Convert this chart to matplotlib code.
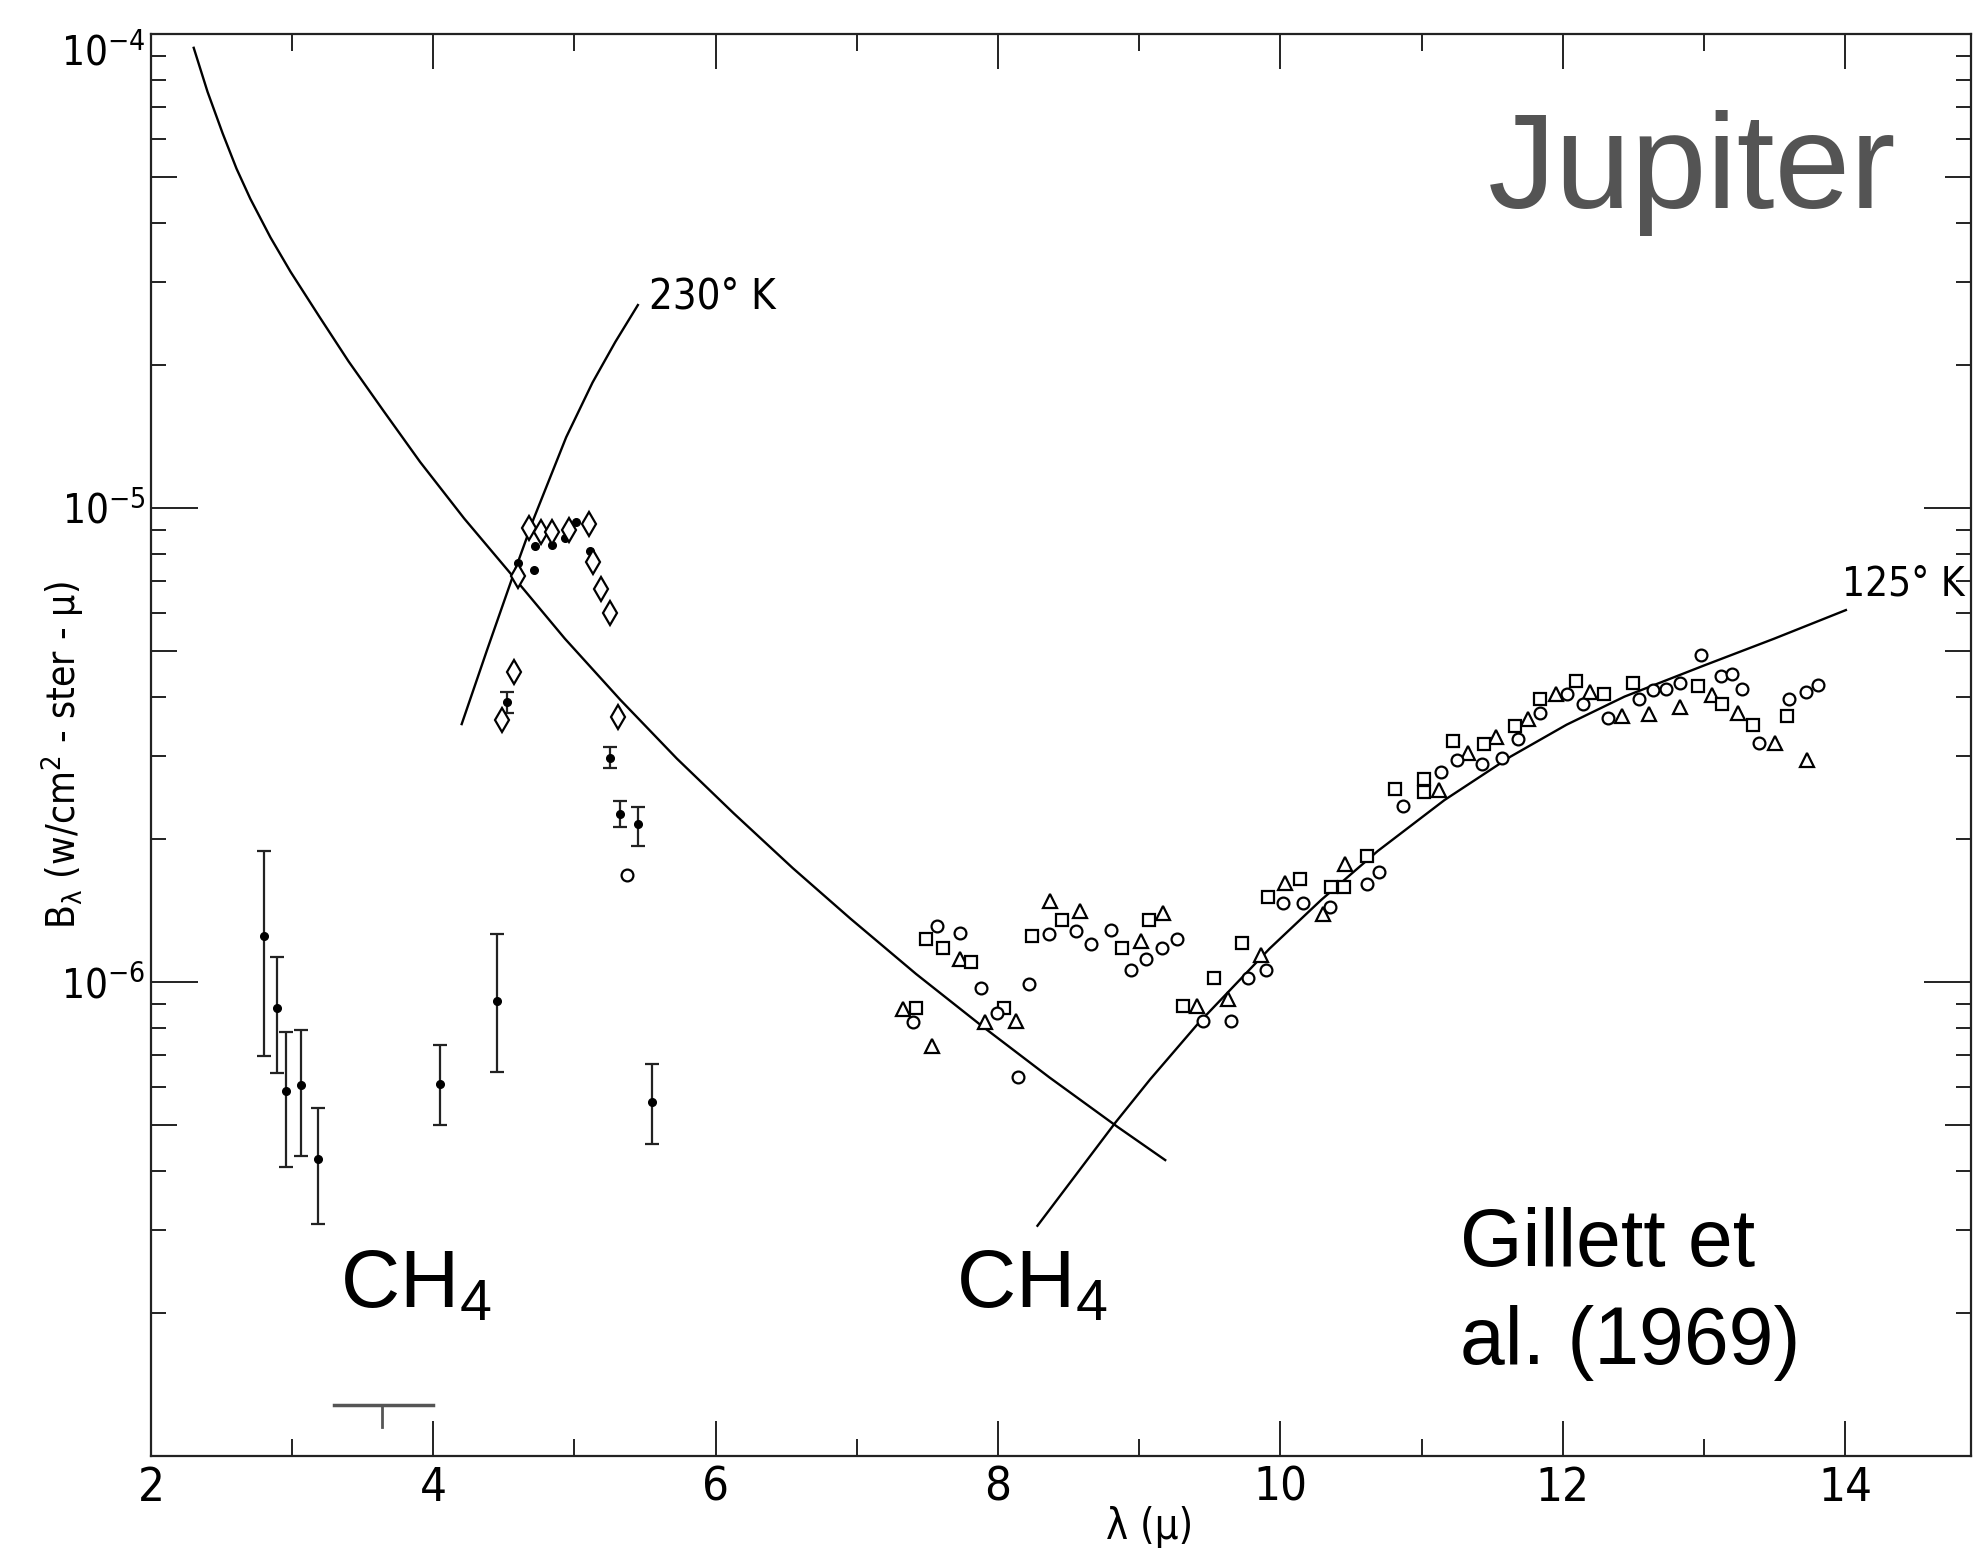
import numpy as np
import matplotlib
matplotlib.use('Agg')
import matplotlib.pyplot as plt
from matplotlib import font_manager as fm
from matplotlib.ticker import (FixedLocator, FixedFormatter, NullFormatter,
                               NullLocator, LogLocator, MultipleLocator)

# ---------------- data ----------------
# falling curve from the upper left
main_x = [2.303, 2.401, 2.508, 2.606, 2.704, 2.847, 2.989, 3.194, 3.399, 3.649, 3.907,
          4.219, 4.531, 4.932, 5.324, 5.725, 6.127, 6.545, 6.955, 7.419, 7.873, 8.364,
          8.845, 9.184]
main_y = [9.35e-5, 7.55e-5, 6.17e-5, 5.2e-5, 4.49e-5, 3.72e-5, 3.15e-5, 2.53e-5, 2.04e-5,
          1.60e-5, 1.25e-5, 9.5e-6, 7.37e-6, 5.30e-6, 3.94e-6, 2.96e-6, 2.27e-6, 1.74e-6,
          1.36e-6, 1.04e-6, 8.13e-7, 6.29e-7, 4.95e-7, 4.21e-7]

# 230 K blackbody segment
k230_x = [4.201, 4.380, 4.567, 4.709, 4.941, 5.128, 5.289, 5.449]
k230_y = [3.50e-6, 5.01e-6, 7.23e-6, 9.46e-6, 1.41e-5, 1.84e-5, 2.24e-5, 2.68e-5]

# 125 K blackbody segment
k125_x = [8.279, 8.833, 9.077, 9.415, 9.923, 10.289, 10.69, 11.162, 11.631, 12.027,
          12.437, 12.998, 13.497, 14.005]
k125_y = [3.06e-7, 5.06e-7, 6.23e-7, 8.16e-7, 1.176e-6, 1.49e-6, 1.89e-6, 2.42e-6,
          2.99e-6, 3.49e-6, 4.0e-6, 4.65e-6, 5.3e-6, 6.09e-6]

# filled points with error bars
eb_x = [2.80, 2.89, 2.96, 3.06, 3.18, 4.05, 4.45, 5.55, 4.52, 5.25, 5.32, 5.45]
eb_y = [1.25e-6, 8.8e-7, 5.9e-7, 6.05e-7, 4.24e-7, 6.1e-7, 9.1e-7, 5.57e-7,
        3.9e-6, 2.97e-6, 2.26e-6, 2.15e-6]
eb_lo = [6.97e-7, 6.44e-7, 4.08e-7, 4.29e-7, 3.08e-7, 5.0e-7, 6.46e-7, 4.55e-7,
         3.7e-6, 2.83e-6, 2.12e-6, 1.94e-6]
eb_hi = [1.89e-6, 1.13e-6, 7.83e-7, 7.92e-7, 5.43e-7, 7.35e-7, 1.26e-6, 6.73e-7,
         4.1e-6, 3.13e-6, 2.41e-6, 2.34e-6]

# filled points without error bars
dot_x = [4.60, 4.71, 4.72, 4.84, 4.93, 5.01, 5.11]
dot_y = [7.65e-6, 7.41e-6, 8.3e-6, 8.36e-6, 8.64e-6, 9.33e-6, 8.1e-6]

# open diamonds
dia_x = [4.49, 4.57, 4.60, 4.68, 4.76, 4.84, 4.96, 5.10, 5.13, 5.19, 5.25, 5.31]
dia_y = [3.57e-6, 4.5e-6, 7.2e-6, 9.07e-6, 8.9e-6, 8.9e-6, 8.98e-6, 9.26e-6,
         7.7e-6, 6.74e-6, 6.01e-6, 3.63e-6]

# open triangles
tri_x = [7.33, 7.53, 7.73, 7.91, 8.13, 8.37, 8.58, 9.01, 9.17, 9.41, 9.63, 9.86, 10.03,
         10.30, 10.46, 11.12, 11.33, 11.53, 11.75, 11.95, 12.19, 12.42, 12.61, 12.83,
         13.06, 13.24, 13.50, 13.73]
tri_y = [8.79e-7, 7.33e-7, 1.12e-6, 8.22e-7, 8.28e-7, 1.48e-6, 1.41e-6, 1.22e-6, 1.40e-6,
         8.9e-7, 9.2e-7, 1.14e-6, 1.62e-6, 1.39e-6, 1.77e-6, 2.54e-6, 3.04e-6, 3.29e-6,
         3.58e-6, 4.06e-6, 4.1e-6, 3.64e-6, 3.67e-6, 3.8e-6, 4.03e-6, 3.70e-6, 3.2e-6, 2.94e-6]

# open squares
sq_x = [7.42, 7.49, 7.61, 7.81, 8.04, 8.24, 8.45, 8.88, 9.07, 9.31, 9.53, 9.73, 9.91,
        10.14, 10.36, 10.45, 10.61, 10.81, 11.02, 11.02, 11.22, 11.44, 11.66, 11.84,
        12.09, 12.29, 12.50, 12.96, 13.13, 13.35, 13.59]
sq_y = [8.8e-7, 1.23e-6, 1.18e-6, 1.10e-6, 8.8e-7, 1.25e-6, 1.35e-6, 1.18e-6, 1.35e-6,
        8.9e-7, 1.02e-6, 1.21e-6, 1.51e-6, 1.65e-6, 1.59e-6, 1.59e-6, 1.84e-6, 2.55e-6,
        2.52e-6, 2.68e-6, 3.23e-6, 3.18e-6, 3.46e-6, 3.96e-6, 4.31e-6, 4.05e-6, 4.28e-6,
        4.21e-6, 3.86e-6, 3.49e-6, 3.64e-6]

# open circles
circ_x = [5.37, 7.40, 7.57, 7.73, 7.88, 7.99, 8.14, 8.22, 8.36, 8.55, 8.66, 8.80, 8.94,
          9.05, 9.16, 9.27, 9.45, 9.65, 9.77, 9.90, 10.02, 10.16, 10.35, 10.61, 10.70,
          10.87, 11.14, 11.25, 11.43, 11.57, 11.68, 11.84, 12.03, 12.14, 12.32, 12.54,
          12.64, 12.73, 12.83, 12.98, 13.12, 13.20, 13.27, 13.39, 13.60, 13.72, 13.81]
circ_y = [1.68e-6, 8.22e-7, 1.31e-6, 1.27e-6, 9.73e-7, 8.6e-7, 6.29e-7, 9.9e-7, 1.26e-6,
          1.28e-6, 1.20e-6, 1.29e-6, 1.06e-6, 1.12e-6, 1.18e-6, 1.23e-6, 8.28e-7, 8.28e-7,
          1.02e-6, 1.06e-6, 1.47e-6, 1.47e-6, 1.44e-6, 1.61e-6, 1.71e-6, 2.35e-6, 2.77e-6,
          2.94e-6, 2.89e-6, 2.97e-6, 3.26e-6, 3.70e-6, 4.05e-6, 3.86e-6, 3.61e-6, 3.96e-6,
          4.13e-6, 4.16e-6, 4.28e-6, 4.9e-6, 4.43e-6, 4.46e-6, 4.16e-6, 3.2e-6, 3.96e-6,
          4.1e-6, 4.24e-6]

# resolution bar near the bottom
res_x = [3.30, 4.00]
res_y = [1.28e-7, 1.28e-7]
res_tick_x = [3.64, 3.64]
res_tick_y = [1.28e-7, 1.15e-7]

x_ticks = [2, 4, 6, 8, 10, 12, 14]
y_ticks = [1e-6, 1e-5, 1e-4]
y_tick_labels = [r'$\mathregular{10^{-6}}$', r'$\mathregular{10^{-5}}$', r'$\mathregular{10^{-4}}$']

# ---------------- fonts ----------------
names = {f.name for f in fm.fontManager.ttflist}
NARROW = 'Liberation Sans Narrow' if 'Liberation Sans Narrow' in names else 'DejaVu Sans'
SANS = 'Liberation Sans' if 'Liberation Sans' in names else 'DejaVu Sans'
old = dict(family=NARROW, stretch='condensed')

plt.rcParams['font.family'] = [SANS, 'DejaVu Sans']

fig = plt.figure(figsize=(19.73, 15.63), dpi=100)
ax = fig.add_axes([0.0765, 0.06846, 0.9224, 0.9098])
ax.set_yscale('log')
ax.set_xlim(2, 14.89)
ax.set_ylim(1e-7, 1e-4)

for s in ax.spines.values():
    s.set_linewidth(1.6)
    s.set_color('#222222')

# curves
ax.plot(main_x, main_y, color='black', lw=1.7)
ax.plot(k230_x, k230_y, color='black', lw=1.7)
ax.plot(k125_x, k125_y, color='black', lw=1.7)

# data markers
yerr = [np.array(eb_y) - np.array(eb_lo), np.array(eb_hi) - np.array(eb_y)]
ax.errorbar(eb_x, eb_y, yerr=yerr, fmt='o', ms=5.5, color='black', ecolor='#222222',
            capsize=5, elinewidth=1.6, capthick=1.6)
ax.plot(dot_x, dot_y, 'o', ms=5.5, color='black', ls='none')
ax.plot(dia_x, dia_y, 'd', ms=12, mfc='white', mec='black', mew=1.6, ls='none')
ax.plot(tri_x, tri_y, '^', ms=10, mfc='white', mec='black', mew=1.6, ls='none')
ax.plot(sq_x, sq_y, 's', ms=9, mfc='white', mec='black', mew=1.6, ls='none')
ax.plot(circ_x, circ_y, 'o', ms=8.5, mfc='white', mec='black', mew=1.6, ls='none')

ax.plot(res_x, res_y, color='#555555', lw=2.5)
ax.plot(res_tick_x, res_tick_y, color='#555555', lw=2)

# ticks
ax.set_xticks(x_ticks)
ax.xaxis.set_minor_locator(MultipleLocator(1))
ax.set_xticklabels([str(t) for t in x_ticks], fontdict=dict(**old, size=34))
ax.yaxis.set_major_locator(FixedLocator(y_ticks))
ax.yaxis.set_major_formatter(FixedFormatter(y_tick_labels))
ax.yaxis.set_minor_locator(LogLocator(base=10, subs=[2, 3, 4, 6, 7, 8, 9], numticks=20))
ax.yaxis.set_minor_formatter(NullFormatter())
ylabs = ax.get_yticklabels()
for lab in ylabs:
    lab.set_family(NARROW)
    lab.set_stretch('condensed')
    lab.set_size(29)
ylabs[-1].set_va('top')

ax.tick_params(axis='both', which='both', direction='in', top=True, right=True,
               width=1.4, color='#222222')
ax.tick_params(axis='x', which='major', length=25, pad=7)
ax.tick_params(axis='x', which='minor', length=12)
ax.tick_params(axis='y', which='major', length=34, pad=4)
ax.tick_params(axis='y', which='minor', length=11)

# half-decade ticks (longer)
for side in ('left', 'right'):
    sec = ax.secondary_yaxis(side)
    sec.yaxis.set_major_locator(FixedLocator([5e-7, 5e-6, 5e-5]))
    sec.yaxis.set_major_formatter(NullFormatter())
    sec.yaxis.set_minor_locator(NullLocator())
    sec.tick_params(direction='in', length=19, width=1.4, color='#222222')
    for s in sec.spines.values():
        s.set_visible(False)

# axis labels
ax.set_ylabel(r'B$_{\mathregular{λ}}$ (w/cm$^{\mathregular{2}}$ - ster - μ)',
              fontdict=dict(**old, size=28))
ax.yaxis.set_label_coords(-0.049, 0.493)
ax.yaxis.label.set_va('center')
ax.set_xlabel('λ (μ)', fontdict=dict(**old, size=30))
ax.xaxis.set_label_coords(0.549, -0.050)
ax.xaxis.label.set_va('center')

# annotations
ax.text(5.53, 2.8e-5, '230° K', ha='left', va='center', **old, size=30)
ax.text(13.98, 6.9e-6, '125° K', ha='left', va='center', **old, size=29)

ax.text(3.34, 2.06e-7, r'CH$_{\mathregular{4}}$', ha='left', va='baseline',
        family=SANS, size=59, color='black')
ax.text(7.70, 2.06e-7, r'CH$_{\mathregular{4}}$', ha='left', va='baseline',
        family=SANS, size=59, color='black')
ax.text(11.47, 4.3e-5, 'Jupiter', ha='left', va='baseline', family=SANS,
        size=98, color='#545454')
ax.text(11.27, 1.56e-7, 'Gillett et\nal. (1969)', ha='left', va='baseline',
        family=SANS, size=58, color='black', linespacing=1.38)

fig.savefig('out.png', dpi=100)
